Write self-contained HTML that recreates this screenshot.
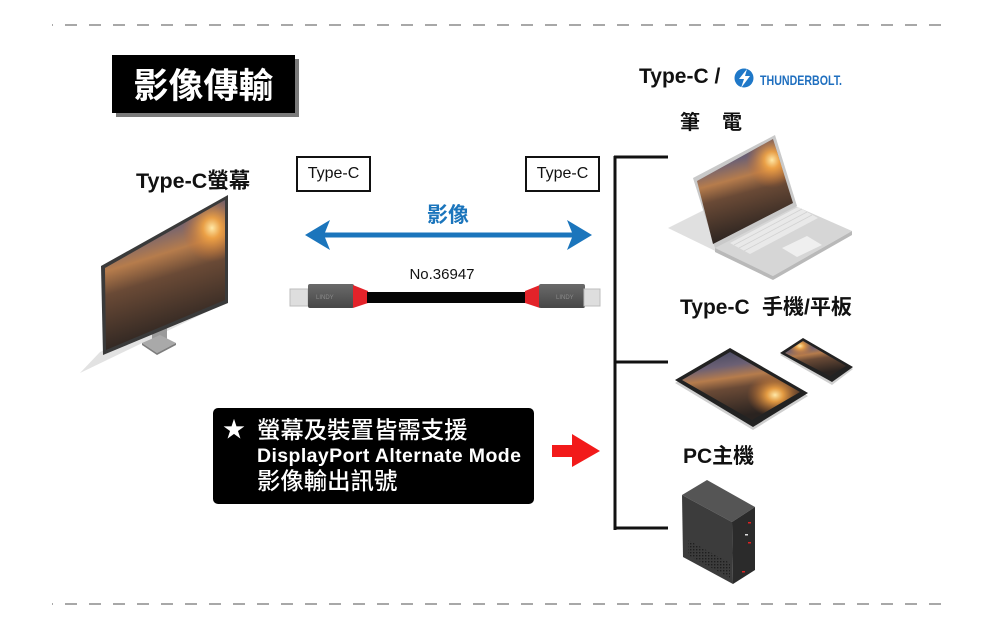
<!DOCTYPE html>
<html><head><meta charset="utf-8">
<style>
html,body{margin:0;padding:0;background:#fff;}
#c{position:relative;width:1000px;height:624px;overflow:hidden;background:#fff;font-family:"Liberation Sans","Noto Sans CJK TC",sans-serif;color:#111;}
.t{position:absolute;white-space:nowrap;}
.box{position:absolute;border:2px solid #111;box-sizing:border-box;display:flex;align-items:center;justify-content:center;font-size:16px;line-height:16px;}
</style></head>
<body><div id="c">
<svg width="1000" height="624" style="position:absolute;left:0;top:0" xmlns="http://www.w3.org/2000/svg">
<defs>
 <linearGradient id="sky" x1="0" y1="0" x2="0.25" y2="1">
  <stop offset="0" stop-color="#3c435c"/>
  <stop offset="0.28" stop-color="#6c6074"/>
  <stop offset="0.45" stop-color="#b67c4c"/>
  <stop offset="0.6" stop-color="#6a4a36"/>
  <stop offset="1" stop-color="#2a2320"/>
 </linearGradient>
 <radialGradient id="sun" cx=".5" cy=".5" r=".5">
  <stop offset="0" stop-color="#ffe9a8"/>
  <stop offset="0.3" stop-color="#f3a544" stop-opacity=".9"/>
  <stop offset="1" stop-color="#c06a30" stop-opacity="0"/>
 </radialGradient>
 <linearGradient id="hous" x1="0" y1="0" x2="0" y2="1">
  <stop offset="0" stop-color="#6a6a6a"/>
  <stop offset="1" stop-color="#474747"/>
 </linearGradient>
 <clipPath id="cmon"><polygon points="105,268 225,200 225,300 106,350"/></clipPath>
 <clipPath id="clap"><polygon points="697,181 773,139 793,203 713,244"/></clipPath>
 <clipPath id="ctab"><polygon points="682,380 730,352 800,392 752,420"/></clipPath>
 <clipPath id="cpho"><polygon points="785,353 803,341 846,366 830,376"/></clipPath>
 <pattern id="vent" width="3" height="3" patternUnits="userSpaceOnUse"><rect width="1.4" height="1.4" fill="#1e1e1e"/></pattern>
</defs>

<!-- dashed lines -->
<line x1="52" y1="25" x2="948" y2="25" stroke="#a8a8a8" stroke-width="2" stroke-dasharray="12 12" stroke-dashoffset="11"/>
<line x1="52" y1="604" x2="948" y2="604" stroke="#a8a8a8" stroke-width="2" stroke-dasharray="12 12" stroke-dashoffset="11"/>

<!-- title box -->
<rect x="116" y="59" width="183" height="58" fill="#7a7a7a"/>
<rect x="112" y="55" width="183" height="58" fill="#000"/>

<!-- monitor -->
<polygon points="80,373 217,307 228,295 100,352" fill="#e2e2e2"/>
<polygon points="152,318 167,311 167,340 152,345" fill="#9a9a9a"/>
<polygon points="142,343 160,335 176,343 157,353" fill="#a9a9a9"/>
<polygon points="142,343 157,353 176,343 176,345 157,355 142,345" fill="#7d7d7d"/>
<polygon points="101,266 228,195 228,303 103,355" fill="#3a3a3a"/>
<polygon points="105,268 225,200 225,300 106,350" fill="url(#sky)"/>
<g clip-path="url(#cmon)"><ellipse cx="212" cy="228" rx="30" ry="34" fill="url(#sun)"/></g>

<!-- blue arrow -->
<line x1="322" y1="235" x2="576" y2="235" stroke="#1b75bc" stroke-width="5"/>
<polygon points="305,235 330,220 324,235 330,250" fill="#1b75bc"/>
<polygon points="592,235 567,220 573,235 567,250" fill="#1b75bc"/>

<!-- cable -->
<rect x="290" y="289" width="18" height="17" fill="#dedede" stroke="#bdbdbd" stroke-width="1"/>
<rect x="308" y="284" width="46" height="24" rx="2" fill="url(#hous)"/>
<text x="316" y="299" font-size="6" fill="#8a8a8a" font-family="Liberation Sans,sans-serif">LINDY</text>
<polygon points="353,285 368,291 368,303 353,308" fill="#e3232a"/>
<rect x="367" y="292" width="159" height="11" fill="#050505"/>
<polygon points="540,285 525,291 525,303 540,308" fill="#e3232a"/>
<rect x="539" y="284" width="46" height="24" rx="2" fill="url(#hous)"/>
<text x="556" y="299" font-size="6" fill="#8a8a8a" font-family="Liberation Sans,sans-serif">LINDY</text>
<rect x="584" y="289" width="16" height="17" fill="#dedede" stroke="#bdbdbd" stroke-width="1"/>

<!-- note box -->
<rect x="213" y="408" width="321" height="96" rx="5" fill="#000"/>

<!-- red arrow -->
<polygon points="552,445 572,445 572,434 600,451 572,467 572,457 552,457" fill="#f21a1a"/>

<!-- bracket -->
<line x1="615" y1="156" x2="615" y2="530" stroke="#111" stroke-width="3"/>
<line x1="614" y1="157" x2="668" y2="157" stroke="#111" stroke-width="3"/>
<line x1="614" y1="362" x2="668" y2="362" stroke="#111" stroke-width="3"/>
<line x1="614" y1="528" x2="668" y2="528" stroke="#111" stroke-width="3"/>

<!-- thunderbolt logo -->
<circle cx="744" cy="78" r="9.5" fill="#1f78c8"/>
<polygon points="747,69 739,79 744,79 741,88 750,76 745,76" fill="#fff"/>
<text x="760" y="85" font-size="14" font-weight="bold" fill="#1f6fbf" textLength="82" lengthAdjust="spacingAndGlyphs" font-family="Liberation Sans,sans-serif">THUNDERBOLT.</text>

<!-- laptop -->
<polygon points="668,228 712,206 773,279" fill="#e0e0e0"/>
<polygon points="715,248 793,205 852,231 773,276" fill="#d6d6d6"/>
<polygon points="715,248 773,276 852,231 852,235 773,280 715,252" fill="#b9b9b9"/>
<polygon points="730,243 798,207 818,218 750,254" fill="#e9e9e9"/>
<g stroke="#d2d2d2" stroke-width="0.8">
<line x1="734" y1="245" x2="802" y2="209"/><line x1="739" y1="248" x2="807" y2="212"/><line x1="744" y1="251" x2="812" y2="215"/>
</g>
<polygon points="782,248 807,236 822,245 797,257" fill="#efefef"/>
<polygon points="693,178 775,135 797,206 715,248" fill="#c9c9c9"/>
<polygon points="697,181 773,139 793,203 713,244" fill="url(#sky)"/>
<g clip-path="url(#clap)"><ellipse cx="772" cy="160" rx="26" ry="28" fill="url(#sun)"/></g>

<!-- tablet -->
<polygon points="675,383 730,351 808,396 753,430" fill="#cfcfcf"/>
<polygon points="675,380 730,348 808,393 753,427" fill="#222"/>
<polygon points="682,380 730,352 800,392 752,420" fill="url(#sky)"/>
<g clip-path="url(#ctab)"><ellipse cx="775" cy="395" rx="28" ry="22" fill="url(#sun)"/></g>
<!-- phone -->
<polygon points="780,355 803,340 853,369 832,385" fill="#cfcfcf"/>
<polygon points="780,353 803,338 853,367 832,382" fill="#222"/>
<polygon points="785,353 803,341 846,366 830,376" fill="url(#sky)"/>
<g clip-path="url(#cpho)"><ellipse cx="800" cy="346" rx="14" ry="10" fill="url(#sun)"/></g>

<!-- PC tower -->
<polygon points="682,495 707,480 755,507 732,522" fill="#555"/>
<polygon points="682,495 732,522 733,584 683,557" fill="#3c3c3c"/>
<polygon points="688,540 730,563 730,578 688,555" fill="url(#vent)"/>
<polygon points="732,522 755,507 755,570 733,584" fill="#2b2b2b"/>
<rect x="748" y="522" width="3" height="1.5" fill="#d22"/>
<rect x="745" y="534" width="3" height="1.5" fill="#ddd"/>
<rect x="748" y="542" width="3" height="1.5" fill="#d22"/>
<rect x="742" y="571" width="3" height="1.5" fill="#d22"/>
</svg>

<!-- texts -->
<div class="t" style="left:112px;top:57px;width:183px;height:58px;display:flex;align-items:center;justify-content:center;font-size:35px;line-height:35px;font-weight:bold;color:#fff;">影像傳輸</div>

<div class="t" style="left:136px;top:168px;font-size:21.5px;line-height:26px;font-weight:bold;">Type-C螢幕</div>

<div class="box" style="left:296px;top:156px;width:75px;height:36px;">Type-C</div>
<div class="box" style="left:525px;top:156px;width:75px;height:36px;">Type-C</div>

<div class="t" style="left:398px;top:203px;width:100px;text-align:center;font-size:21px;line-height:25px;font-weight:bold;color:#1b75bc;">影像</div>
<div class="t" style="left:392px;top:266px;width:100px;text-align:center;font-size:15px;line-height:18px;">No.36947</div>

<div class="t" style="left:639px;top:65px;font-size:21px;line-height:24px;font-weight:bold;">Type-C /</div>

<div class="t" style="left:680px;top:111px;font-size:20px;line-height:24px;font-weight:bold;">筆</div>
<div class="t" style="left:722px;top:111px;font-size:20px;line-height:24px;font-weight:bold;">電</div>

<div class="t" style="left:680px;top:296px;font-size:21px;line-height:24px;font-weight:bold;">Type-C</div>
<div class="t" style="left:762px;top:296px;font-size:21px;line-height:24px;font-weight:bold;">手機/平板</div>

<div class="t" style="left:683px;top:445px;font-size:21px;line-height:24px;font-weight:bold;">PC主機</div>

<div class="t" style="left:223px;top:417px;font-size:22px;line-height:26px;color:#fff;">★</div>
<div class="t" style="left:257px;top:417px;font-size:23.4px;line-height:26px;color:#fff;font-weight:500;">螢幕及裝置皆需支援</div>
<div class="t" style="left:257px;top:445px;font-size:19.5px;line-height:22px;color:#fff;font-weight:bold;letter-spacing:0.4px;">DisplayPort Alternate Mode</div>
<div class="t" style="left:257px;top:468px;font-size:23.4px;line-height:26px;color:#fff;font-weight:500;">影像輸出訊號</div>

</div></body></html>
